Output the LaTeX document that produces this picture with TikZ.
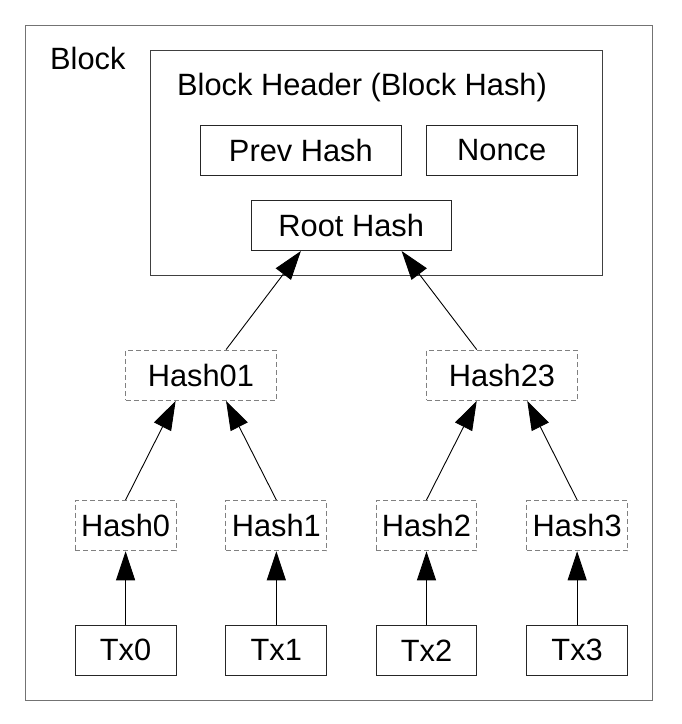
\documentclass[tikz,border=0pt]{standalone}
\usepackage{fontspec}
\setmainfont{Liberation Sans}
\usetikzlibrary{arrows.meta,calc}
\begin{document}
\begin{tikzpicture}[x=1pt,y=-1pt,
  every node/.style={inner sep=0pt, font=\fontsize{30.8}{36}\selectfont},
  solidbox/.style={draw=black!85, line width=1pt, minimum height=49.6pt},
  dashbox/.style={draw=black!50, line width=1pt, dash pattern=on 5pt off 3pt, minimum height=50.3pt},
  conn/.style={draw=black, line width=0.9pt, -{Triangle[length=29pt,width=19pt]}}
]
\useasboundingbox (0,0) rectangle (682,724);
% outer block
\node[draw=black!55, line width=1pt, minimum width=626.3pt, minimum height=674.8pt] (outer) at (338.85,363.1) {};
\node[anchor=base west] (blocklbl) at (50,69) {Block};
% header
\node[draw=black!75, line width=1pt, minimum width=451.3pt, minimum height=224.3pt] (header) at (376.35,162.85) {};
\node[anchor=base west] (headerlbl) at (177,95) {Block Header (Block Hash)};
\node[solidbox, minimum width=200.9pt] (prev) at (300.85,150.5) {Prev Hash};
\node[solidbox, minimum width=151.4pt] (nonce) at (501.7,150.5) {Nonce};
\node[solidbox, minimum width=200.5pt, minimum height=50.5pt] (root) at (351.25,225.25) {Root Hash};
% level 1
\node[dashbox, minimum width=150.3pt] (h01) at (200.85,375.25) {Hash01};
\node[dashbox, minimum width=150.6pt] (h23) at (502,375.25) {Hash23};
% level 2
\foreach \i/\x in {0/125.6,1/276.35,2/426.5,3/577.15}{
  \node[dashbox, minimum width=100.8pt] (h\i) at (\x,525.6) {Hash\i};
  \node[solidbox, minimum width=100.8pt] (tx\i) at (\x,650.35) {Tx\i};
  \draw[conn] (tx\i.north) -- (h\i.south);
}
\draw[conn] (h0.north) -- ($(h01.south west)!1/3!(h01.south east)$);
\draw[conn] (h1.north) -- ($(h01.south west)!2/3!(h01.south east)$);
\draw[conn] (h2.north) -- ($(h23.south west)!1/3!(h23.south east)$);
\draw[conn] (h3.north) -- ($(h23.south west)!2/3!(h23.south east)$);
\draw[conn] ($(h01.north west)!2/3!(h01.north east)$) -- ($(root.south west)!1/4!(root.south east)$);
\draw[conn] ($(h23.north west)!1/3!(h23.north east)$) -- ($(root.south west)!3/4!(root.south east)$);
\end{tikzpicture}
\end{document}
